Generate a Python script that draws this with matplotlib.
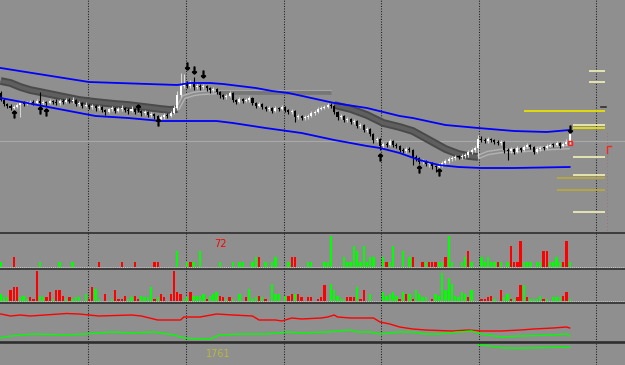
import numpy as np
import matplotlib
matplotlib.use("Agg")
import matplotlib.pyplot as plt
from matplotlib.lines import Line2D

# ---------------- data (price in chart points) ----------------
first_open = 140
close = [133,129,127,125,126,128,130,129,130,131,
         130,132,130,131,130,132,131,130,132,131,
         133,132,133,129,130,127,128,126,127,125,
         126,123,121,124,125,122,124,125,123,122,
         124,121,122,120,121,118,119,117,114,116,
         118,117,120,125,138,147,149,147,149,146,
         147,146,147,145,143,144,141,138,136,137,
         140,133,131,134,132,133,135,130,127,129,
         126,124,125,122,125,124,126,123,121,122,
         116,117,115,116,117,120,121,124,125,126,
         128,127,121,116,117,113,114,111,112,107,
         108,103,104,99,93,94,87,89,88,92,
         88,87,83,82,84,83,76,75,71,72,
         69,70,67,66,68,70,72,74,75,76,
         76,77,78,81,83,85,94,93,92,94,
         93,91,90,91,83,82,84,81,85,83,
         86,88,86,81,84,85,85,87,88,88,
         90,87,89,91,99]
high = [142,135,130,129,128,130,131,132,132,133,
        133,134,141,133,132,134,133,134,134,134,
        135,135,136,134,132,131,131,129,129,128,
        128,127,124,125,127,126,126,128,126,125,
        127,125,125,123,123,122,121,120,118,118,
        120,120,122,128,142,160,159,152,153,156,
        150,149,149,148,146,146,145,142,139,139,
        142,141,134,136,135,135,137,136,131,131,
        130,127,127,126,127,126,128,127,124,124,
        123,119,118,118,119,122,123,126,127,128,
        130,130,128,122,119,118,116,115,114,113,
        110,109,106,105,100,96,95,91,91,94,
        93,90,88,85,86,86,84,78,76,74,
        73,72,71,68,70,72,74,76,77,78,
        78,79,80,83,85,87,98,97,95,96,
        95,94,93,93,92,85,86,85,87,86,
        88,90,89,87,86,87,87,89,90,90,
        92,91,91,94,101]
low = [132,127,125,123,124,125,116,127,128,129,
       128,129,123,128,127,129,129,128,128,129,
       130,130,130,127,127,125,126,124,124,122,
       123,121,118,120,122,120,121,122,121,119,
       121,119,120,117,118,116,116,114,111,112,
       114,115,116,119,123,136,145,145,145,143,
       144,143,144,142,140,141,139,135,134,134,
       136,131,129,130,130,131,131,128,125,126,
       124,122,122,120,121,122,123,121,119,119,
       111,114,113,113,114,116,118,120,123,124,
       125,125,119,113,114,111,111,109,109,105,
       105,101,101,97,90,91,83,85,86,87,
       86,85,81,80,80,81,68,72,69,69,
       67,66,64,61,64,66,68,70,72,73,
       74,74,75,76,79,81,75,91,90,90,
       91,89,88,88,80,73,80,79,80,81,
       82,85,84,79,80,82,83,84,86,86,
       87,85,86,88,89]

# moving-average band (state segments)
ma_dark1_idx = [0,3,6,9,12,15,18,21,24,29,35,39,44,49,52,54]
ma_dark1_val = [152,150,146,143,141,139,137,135,133,131,129,128,126,124,123,124]
ma_up1_idx = [54,55,56,59,61,66]
ma_up1_val = [124,130,136,139,140,141]
ma_flat_idx = [66,101]
ma_flat_val = [141.5,141.5]
ma_dark2_idx = [102,107,112,117,122,126,131,136,140,143,146]
ma_dark2_val = [128,124,118,110,106,102,93,84,79,77,76]
ma_up2_idx = [146,149,153,160,168,174]
ma_up2_val = [76,80,82,83,85,86]

# envelope (blue)
upper_idx = [0,27,54,58,64,68,73,78,83,88,102,112,122,126,136,146,157,167,174]
upper_val = [165,151,148,150,150,149,147,145,142,140,130,125,117,115,108,105,102,101,103]
lower_idx = [0,29,39,49,66,71,81,92,102,112,116,122,128,134,140,147,157,174]
lower_val = [135,117,115,112,112,110,105,100,93,87,85,80,73,68,66,65,65,66]

# fractal arrows
up_idx = [4,12,14,42,48,116,128,134]
up_val = [119,123,121,125,111,76,64,61]
dn_idx = [57,59,62,174]
dn_val = [167,163,159,104]

# pivot levels on the right
level_val = [162,151,122,108,105,76,58,55,43,21]
level_kind = ['w','w','y','w','y','w','w','o','o','w']

bid_price = 92.5
marker_price = 90

# histogram 1 (signed levels: + buy / - sell)
hist1 = [1,0,0,0,-2,0,0,0,0,0,
         0,0,1,0,0,0,0,0,1,0,
         0,0,1,0,0,0,0,0,0,0,
         -1,0,0,0,0,0,0,-1,0,0,
         0,-1,0,0,0,0,0,-1,-1,0,
         0,0,0,0,3,0,0,1,-1,1,
         0,3,0,0,0,0,0,1,0,0,
         0,1,0,1,1,0,0,1,2,-2,
         0,1,0,1,2,0,0,0,1,-2,
         -2,0,0,0,1,1,0,0,0,1,
         1,6,0,0,0,2,1,1,4,3,
         1,4,1,2,2,0,0,2,-1,1,
         4,0,0,3,0,2,-2,0,0,-1,
         1,-1,-1,-1,1,1,-2,6,1,0,
         0,1,2,-3,1,0,0,2,1,2,
         1,1,-1,1,0,1,-4,-1,-1,-5,
         1,1,1,0,1,1,-3,-3,1,1,
         2,1,-1,-5,1]
hist1_label = "72"

# histogram 2 (signed)
hist2 = [7,4,4,-11,-14,-14,4,5,2,-4,
         -2,-30,5,4,-4,-9,2,-11,-11,-5,
         2,-4,2,4,4,0,7,-2,-14,12,
         2,0,-7,0,2,-11,-2,-2,-5,2,
         4,-5,-2,5,4,4,14,-2,4,-7,
         -4,0,-7,-30,-9,-7,2,4,-9,5,
         5,5,7,-2,5,7,9,-5,-4,2,
         -4,2,0,7,0,-4,12,2,4,-5,
         4,-2,0,17,7,7,0,5,-5,-7,
         7,-7,-4,0,-4,-4,0,-2,-4,-16,
         0,17,11,5,2,2,-4,-4,-4,14,
         -2,-11,0,7,0,0,0,9,5,7,
         9,5,-2,9,-7,7,-2,11,7,4,
         4,0,-2,7,5,28,11,23,17,5,
         4,9,7,-4,11,0,0,-2,-2,-4,
         -5,2,0,-11,4,7,-2,2,-4,-16,
         16,-4,2,2,2,5,-2,2,0,4,
         4,4,-5,-9,2]

# line indicator panel
red_idx = [0,3,6,9,18,20,24,27,30,40,43,48,55,56,61,66,71,77,79,84,86,89,92,98,100,
           102,103,107,114,116,119,122,126,130,138,143,147,153,159,163,169,173,174]
red_val = [28,26,27,26,28,28.5,28,27,26,27,26,22,22,25,25,28,27,26,22,22,21,24,23,24,25,
           27,25,24,24,20,18,15,13,12,11,12,11,11,12,13,14,15,14]
green_idx = [0,3,10,20,26,34,40,47,53,56,61,64,67,74,81,88,92,100,107,109,113,116,122,
             126,130,134,140,144,147,153,159,169,173,174]
green_val = [4,6,8,7,8,10,9,10,7,4,3,3,7,8,8,10,9,10,12,10,10,8,10,
             10,8,8,10,11,8,5,6,7,8,6]
bottom_idx = [146,149,153,158,169,174]
bottom_val = [20,19.3,17.3,16.7,17.7,17.7]
bottom_label = "1761"

# ---------------- layout ----------------
W, H = 625, 365
BG = '#8f8f8f'
fig = plt.figure(figsize=(W / 100, H / 100), dpi=100, facecolor=BG)

STEP = 3.27          # pixels per bar
X0 = -0.7 / STEP
XLIM = (X0, X0 + W / STEP)
grid_idx = [26.7, 56.6, 86.5, 116.3, 146.2, 182.0]


def make_axes(top, bottom, ylim):
    ax = fig.add_axes([0, 1 - bottom / H, 1, (bottom - top) / H])
    ax.set_xlim(*XLIM)
    ax.set_ylim(*ylim)
    ax.axis('off')
    return ax


ax_main = make_axes(0, 233, (0, 233))
ax_h1 = make_axes(233, 268, (-1 / 5.17, 34 / 5.17))
ax_h2 = make_axes(268, 303, (-2, 33))
ax_l = make_axes(303, 342, (0, 39))
ax_b = make_axes(342, 365, (0, 23))

for ax in (ax_main, ax_h1, ax_h2, ax_l, ax_b):
    for g in grid_idx:
        ax.axvline(g, color='#1c1c1c', lw=0.75, ls=(0, (1, 1.5)), zorder=1)

# ---------------- main panel ----------------
ax_main.axhline(bid_price, color='#a9a9a9', lw=0.8, zorder=1)

# MA band
ax_main.plot(ma_dark1_idx, ma_dark1_val, color='#4a4a4a', lw=5.6, solid_capstyle='butt', zorder=2)
ax_main.plot(ma_dark1_idx, ma_dark1_val, color='#5f5f5f', lw=2.8, solid_capstyle='butt', zorder=2)
ax_main.plot(ma_dark2_idx, ma_dark2_val, color='#4a4a4a', lw=5.6, solid_capstyle='butt', zorder=2)
ax_main.plot(ma_dark2_idx, ma_dark2_val, color='#5f5f5f', lw=2.8, solid_capstyle='butt', zorder=2)
for xi, yv in ((ma_up1_idx, ma_up1_val), (ma_up2_idx, ma_up2_val)):
    ax_main.plot(xi, yv, color='#b2b2b2', lw=3.4, solid_capstyle='butt', zorder=2)
    ax_main.plot(xi, yv, color='#8c8c8c', lw=1.3, solid_capstyle='butt', zorder=2)
ax_main.plot(ma_flat_idx, ma_flat_val, color='#767676', lw=3.4, solid_capstyle='butt', zorder=2)
ax_main.plot(ma_flat_idx, [v + 1.6 for v in ma_flat_val], color='#a4a4a4', lw=0.8, zorder=2)

# candles
idx = np.arange(len(close))
o = np.array([first_open] + close[:-1], dtype=float)
c = np.array(close, dtype=float)
hi = np.array(high, dtype=float)
lo = np.array(low, dtype=float)
bull = c > o
bear = ~bull
body = np.maximum(np.abs(c - o), 0.8)
bottom = np.minimum(o, c)
ax_main.vlines(idx[bull], lo[bull], hi[bull], color='#d4d4d4', lw=0.8, zorder=3)
ax_main.vlines(idx[bear], lo[bear], hi[bear], color='#000000', lw=0.8, zorder=3)
ax_main.bar(idx[bull], body[bull], bottom=bottom[bull], width=0.62, color='#ffffff', lw=0, zorder=4)
ax_main.bar(idx[bear], body[bear], bottom=bottom[bear], width=0.62, color='#000000', lw=0, zorder=4)

# envelope
ax_main.plot(upper_idx, upper_val, color='#0000ff', lw=1.3, zorder=5)
ax_main.plot(lower_idx, lower_val, color='#0000ff', lw=1.3, zorder=5)

# arrows (markers)
ax_main.plot(up_idx, up_val, ls='none', marker=r'$\uparrow$', ms=5, color='black', zorder=6)
ax_main.plot(dn_idx, dn_val, ls='none', marker=r'$\downarrow$', ms=5, color='black', zorder=6)

# current price marker
ax_main.plot([idx[-1]], [marker_price], marker='s', mfc='none', mec='#ff2020', ms=3.5, mew=1.0, zorder=6)

# pivot levels
kind_color = {'w': '#ececb4', 'y': '#e8e000', 'o': '#b8a83c'}
kind_start = {'w': 175.0, 'y': 175.0, 'o': 170.0}
for k, (v, kd) in enumerate(zip(level_val, level_kind)):
    start = kind_start[kd]
    if k < 2:
        start = 180.0
    if k == 2:
        start = 160.0
    ax_main.plot([start, 184.9], [v, v], color=kind_color[kd], lw=1.3, solid_capstyle='butt', zorder=5)

# small markers on the right
ax_main.plot([183.6, 185.0], [126, 126], color='#303030', lw=1.2, zorder=5)
ax_main.vlines(185.4, 3, 103, colors='#a06868', lw=0.6, ls=(0, (1, 3)), zorder=5)
ax_main.plot([185.4, 185.4, 186.6], [80, 87, 87], color='#ff2020', lw=1.0, zorder=6)

# ---------------- histogram panels ----------------
h1 = np.array(hist1, dtype=float)
m1 = h1 != 0
ax_h1.bar(idx[m1], np.abs(h1[m1]), width=0.7,
          color=np.where(h1[m1] > 0, '#00ff00', '#ff0000'), lw=0, zorder=3)
ax_h1.axhline(-0.05, color='#c8c8c8', lw=0.7, ls=(0, (1, 1)), zorder=2)

h2 = np.array(hist2, dtype=float)
m2 = h2 != 0
ax_h2.bar(idx[m2], np.abs(h2[m2]), width=0.7,
          color=np.where(h2[m2] > 0, '#00ff00', '#ff0000'), lw=0, zorder=3)
ax_h2.axhline(-0.3, color='#c8c8c8', lw=0.7, ls=(0, (1, 1)), zorder=2)

fig.text(220 / W, 1 - 244 / H, hist1_label, color='#ff0000', fontsize=7, ha='center', va='center')

# ---------------- line panels ----------------
ax_l.plot(red_idx, red_val, color='#ff0000', lw=1.0, zorder=3)
ax_l.plot(green_idx, green_val, color='#00ff00', lw=1.0, zorder=3)
ax_b.plot(bottom_idx, bottom_val, color='#00ff00', lw=1.0, zorder=3)
fig.text(218 / W, 1 - 354 / H, bottom_label, color='#b8b83a', fontsize=7, ha='center', va='center')

# panel separators
for ypx, lw in ((233, 1.2), (268.5, 1.2), (303, 1.2), (342, 1.9)):
    fig.add_artist(Line2D([0, 1], [1 - ypx / H] * 2, transform=fig.transFigure,
                          color='#2e2e2e', lw=lw))

fig.savefig('out.png', dpi=100, facecolor=BG)
